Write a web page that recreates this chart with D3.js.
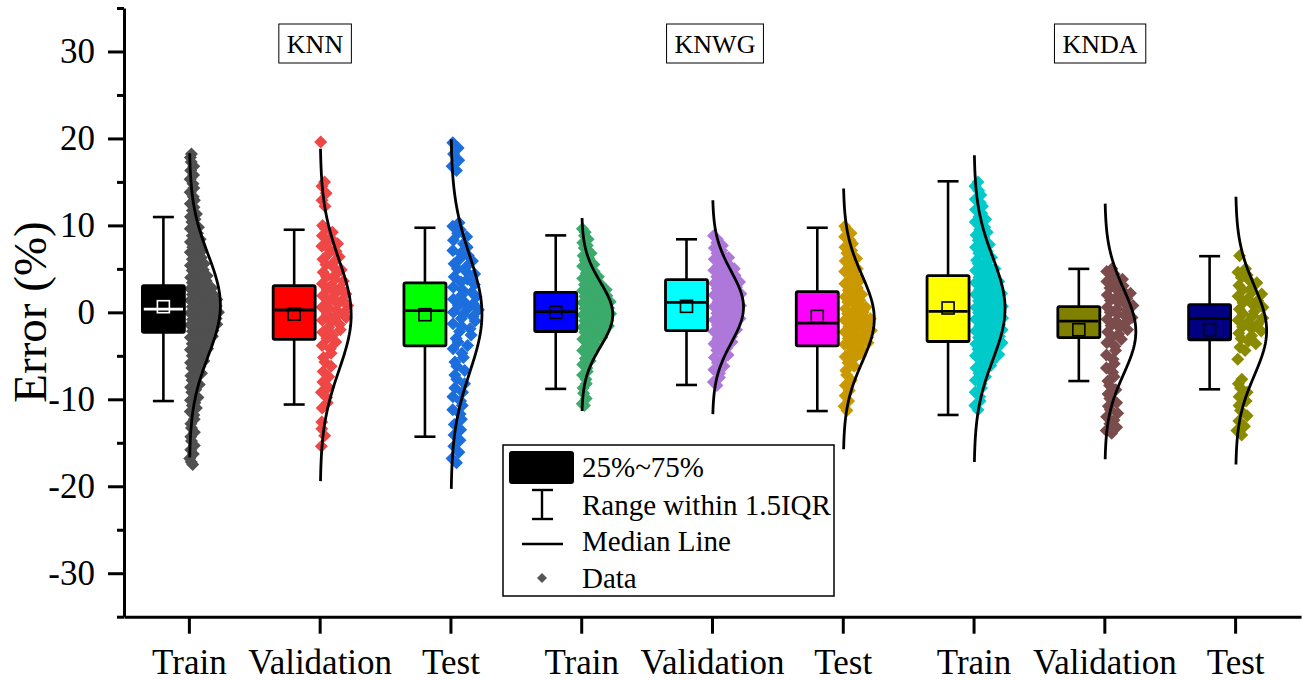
<!DOCTYPE html>
<html>
<head>
<meta charset="utf-8">
<script src="https://d3js.org/d3.v7.min.js"></script>
<style>
  body { margin: 0; background: #fff; }
  svg { display: block; }
</style>
</head>
<body>
<script>
var serif = "'Liberation Serif', 'Times New Roman', serif";

// categories on the x axis
var xLabels = ["Train", "Validation", "Test", "Train", "Validation", "Test", "Train", "Validation", "Test"];
var groups = ["KNN", "KNWG", "KNDA"];

// box statistics
var q1     = [-2.3, -3.1, -3.85, -2.2, -2.1, -3.85, -3.35, -2.9, -3.15];
var q3     = [3.07, 3.07, 3.38, 2.3, 3.77, 2.38, 4.23, 0.65, 0.88];
var median = [0.38, 0.27, 0.19, 0.08, 1.15, -1.23, 0.12, -1.0, -0.69];
var mean   = [0.65, -0.2, -0.27, 0.0, 0.69, -0.46, 0.5, -2.0, -2.0];
var whiLo  = [-10.2, -10.6, -14.3, -8.8, -8.35, -11.35, -11.8, -7.9, -8.85];
var whiHi  = [10.96, 9.5, 9.73, 8.85, 8.4, 9.73, 15.07, 5.0, 6.46];

// normal curve fit (mean, sd)
var fitMean = [0.8, -0.3, -0.2, -0.25, 0.6, -0.75, 0.43, -2.2, -2.1];
var fitSd   = [5.83, 6.37, 6.7, 3.7, 4.1, 5.0, 5.88, 4.9, 5.13];

var boxColors   = ["#000000", "#FF0000", "#00FF00", "#0000FF", "#00FFFF", "#FF00FF", "#FFFF00", "#808000", "#000080"];
var pointColors = ["#505050", "#EF4646", "#1C6EDC", "#3BAA6B", "#AE78DA", "#CA9800", "#00CACA", "#7B4C4C", "#8A8A00"];

// data points (error %), one list per box
var knnTrain = [18.2, 17.8, 17.3, 16.8, 16.3, 15.8, 15.3, 14.8, 14.3, 13.8, 13.3, 12.9, 12.5, 12.1, 11.7, 11.3,
  11.0, 10.7, 10.4, 10.1, 9.8, 9.6, 9.3, 9.1, 8.8, 8.6, 8.4, 8.1, 7.9, 7.7, 7.5, 7.3, 7.1,
  6.9, 6.7, 6.5, 6.3, 6.1, 5.9, 5.8, 5.6, 5.4, 5.3, 5.1, 4.9, 4.8, 4.6, 4.5, 4.3, 4.2, 4.0, 3.9, 3.7, 3.6, 3.4, 3.3, 3.1,
  3.0, 2.88, 2.8, 2.71, 2.6, 2.52, 2.43, 2.3, 2.22, 2.1, 2.05, 1.93, 1.85, 1.74, 1.66, 1.55, 1.47, 1.38, 1.27, 1.2,
  1.08, 1.0, 0.93, 0.82, 0.74, 0.63, 0.55, 0.46, 0.38, 0.27, 0.2, 0.1, 0.02, -0.08, -0.15, -0.26, -0.34, -0.45,
  -0.52, -0.63, -0.7, -0.81, -0.9, -1.0, -1.08, -1.19, -1.27, -1.38, -1.46, -1.57, -1.66, -1.78, -1.86, -1.97,
  -2.08, -2.17, -2.3, -2.4, -2.52, -2.63, -2.75, -2.88, -3.0,
  -3.1, -3.3, -3.4, -3.6, -3.7, -3.9, -4.0, -4.2, -4.3, -4.5, -4.7, -4.8, -5.0, -5.2, -5.4, -5.6, -5.8, -6.0,
  -6.2, -6.4, -6.6, -6.8, -7.0, -7.3, -7.5, -7.8, -8.0, -8.3, -8.6, -8.9, -9.2, -9.5, -9.8, -10.1, -10.4, -10.7,
  -11.0, -11.4, -11.8, -12.3, -12.8, -13.3, -13.8, -14.3, -14.8, -15.3, -15.8, -16.3, -16.8, -17.2, -17.5];
var knnVal = [19.6, 15.0, 14.5, 13.7, 12.9, 12.2, 10.0, 9.6, 9.2, 8.8, 8.5, 8.2, 7.9, 7.6, 7.3, 7.0, 6.7, 6.4,
  6.1, 5.8, 5.5, 5.2, 4.9, 4.6, 4.3, 4.1, 3.8, 3.6, 3.3, 3.1, 2.8, 2.6, 2.3, 2.1, 1.9, 1.7, 1.4, 1.2, 1.0, 0.8,
  0.6, 0.4, 0.2, 0.0, -0.2, -0.4, -0.6, -0.9, -1.1, -1.4, -1.7, -2.0, -2.3, -2.6, -3.0, -3.4, -3.8, -4.2, -4.7,
  -5.2, -5.7, -6.2, -6.8, -7.4, -8.0, -8.6, -9.2, -9.8, -10.4, -11.0, -12.6, -13.4, -14.2, -15.4];
var knnTest = [19.5, 18.9, 18.2, 17.5, 16.8, 16.3, 10.3, 9.9, 9.5, 9.1, 8.7, 8.3, 7.9, 7.5, 7.1, 6.8, 6.5, 6.2,
  5.9, 5.6, 5.3, 5.0, 4.7, 4.4, 4.1, 3.8, 3.5, 3.2, 2.9, 2.6, 2.3, 2.0, 1.8, 1.5, 1.3, 1.0, 0.8, 0.5, 0.3, 0.0,
  -0.2, -0.5, -0.7, -1.0, -1.3, -1.6, -1.9, -2.2, -2.6, -3.0, -3.4, -3.8, -4.2, -4.7, -5.2, -5.7, -6.2, -6.7,
  -7.2, -7.7, -8.2, -8.7, -9.2, -9.7, -10.2, -10.7, -11.2, -11.7, -12.3, -12.9, -13.5, -14.1, -14.7, -15.4,
  -16.1, -16.8, -17.3];
var knwgTrain = [9.6, 9.2, 8.8, 8.4, 8.0, 7.7, 7.4, 7.1, 6.8, 6.5, 6.2, 6.0, 5.8, 5.5, 5.3, 5.1, 4.9, 4.7, 4.5,
  4.3, 4.1, 3.9, 3.7, 3.5, 3.42, 3.3, 3.18, 3.1, 2.97, 2.9, 2.78, 2.7, 2.61, 2.5, 2.42, 2.3, 2.21, 2.1, 2.03,
  1.9, 1.82, 1.7, 1.64, 1.5, 1.43, 1.3, 1.22, 1.1, 1.04, 0.9, 0.83, 0.7, 0.62, 0.5, 0.44, 0.3, 0.21, 0.1, 0.03,
  -0.1, -0.17, -0.3, -0.36, -0.5, -0.58, -0.7, -0.77, -0.9, -0.98, -1.1, -1.16, -1.3, -1.37, -1.5, -1.58, -1.7,
  -1.79, -1.9, -2.0, -2.1, -2.22, -2.3, -2.41, -2.5, -2.7, -2.9, -3.1, -3.3, -3.5, -3.7, -3.9, -4.1, -4.4, -4.7,
  -5.0, -5.3, -5.6, -6.0, -6.4, -6.8, -7.2, -7.7, -8.2, -8.7, -9.3, -9.9, -10.5, -10.7];
var knwgVal = [8.8, 8.4, 8.0, 7.7, 7.4, 7.1, 6.8, 6.6, 6.3, 6.1, 5.8, 5.6, 5.4, 5.2, 5.0, 4.85, 4.7, 4.55, 4.4,
  4.25, 4.1, 3.95, 3.8, 3.65, 3.5, 3.35, 3.2, 3.05, 2.9, 2.75, 2.6, 2.45, 2.3, 2.15, 2.0, 1.85, 1.7, 1.55, 1.4,
  1.25, 1.1, 0.95, 0.8, 0.65, 0.5, 0.35, 0.2, 0.05, -0.1, -0.25, -0.4, -0.55, -0.7, -0.85, -1.0, -1.15, -1.3,
  -1.45, -1.6, -1.8, -2.0, -2.2, -2.4, -2.6, -2.8, -3.0, -3.2, -3.4, -3.6, -3.85, -4.1, -4.35, -4.6, -4.9, -5.2,
  -5.5, -5.8, -6.2, -6.6, -7.0, -7.5, -8.0, -8.4];
var knwgTest = [9.9, 9.5, 9.1, 8.7, 8.3, 7.9, 7.5, 7.1, 6.8, 6.5, 6.2, 5.9, 5.6, 5.3, 5.0, 4.7, 4.4, 4.1, 3.8,
  3.55, 3.3, 3.05, 2.8, 2.55, 2.3, 2.05, 1.8, 1.6, 1.4, 1.2, 1.0, 0.8, 0.6, 0.4, 0.2, 0.0, -0.15, -0.3, -0.45,
  -0.6, -0.75, -0.9, -1.05, -1.2, -1.35, -1.5, -1.65, -1.8, -1.95, -2.1, -2.25, -2.4, -2.55, -2.7, -2.85, -3.0,
  -3.15, -3.3, -3.5, -3.7, -3.9, -4.1, -4.3, -4.55, -4.8, -5.1, -5.4, -5.8, -6.2, -6.7, -7.2, -7.8, -8.4, -9.0,
  -9.6, -10.2, -10.8, -11.3];
var kndaTrain = [15.0, 14.5, 14.0, 13.5, 13.0, 12.6, 12.2, 11.8, 11.4, 11.0, 10.7, 10.4, 10.1, 9.8, 9.5, 9.2,
  8.9, 8.6, 8.3, 8.0, 7.8, 7.5, 7.3, 7.0, 6.8, 6.5, 6.3, 6.0, 5.8, 5.6, 5.4, 5.2, 5.0, 4.8, 4.6, 4.4, 4.2, 4.0,
  3.85, 3.7, 3.55, 3.4, 3.25, 3.1, 2.95, 2.8, 2.65, 2.5, 2.35, 2.2, 2.05, 1.9, 1.75, 1.6, 1.45, 1.3, 1.15, 1.0,
  0.85, 0.7, 0.55, 0.4, 0.25, 0.1, -0.05, -0.2, -0.35, -0.5, -0.65, -0.8, -0.95, -1.1, -1.25, -1.4, -1.55,
  -1.7, -1.85, -2.0, -2.15, -2.3, -2.45, -2.6, -2.75, -2.9, -3.05, -3.2, -3.35, -3.5, -3.65, -3.8, -3.95, -4.1,
  -4.25, -4.4, -4.55, -4.7, -4.85, -5.0, -5.2, -5.4, -5.6, -5.8, -6.1, -6.4, -6.7, -7.0, -7.4, -7.8, -8.2, -8.7,
  -9.2, -9.7, -10.2, -10.7, -11.2];
var kndaVal = [5.0, 4.7, 4.4, 4.1, 3.8, 3.55, 3.3, 3.05, 2.8, 2.6, 2.4, 2.2, 2.0, 1.8, 1.6, 1.4, 1.2, 1.0, 0.8,
  0.6, 0.4, 0.2, 0.0, -0.2, -0.4, -0.6, -0.8, -1.0, -1.25, -1.5, -1.75, -2.0, -2.25, -2.5, -2.8, -3.1, -3.5,
  -3.9, -4.4, -4.9, -5.4, -5.9, -6.4, -6.9, -7.4, -7.9, -8.4, -8.9, -9.4, -9.9, -10.4, -10.8, -11.2, -11.6,
  -12.0, -12.4, -12.8, -13.2, -13.6, -13.9];
var kndaTest = [6.5, 5.0, 4.6, 4.3, 4.0, 3.7, 3.4, 3.1, 2.85, 2.6, 2.35, 2.1, 1.85, 1.6, 1.35, 1.1, 0.85, 0.6,
  0.35, 0.1, -0.15, -0.4, -0.65, -0.9, -1.15, -1.4, -1.65, -1.9, -2.15, -2.4, -2.7, -3.0, -3.3, -3.6, -4.0,
  -4.4, -5.4, -7.7, -8.2, -8.7, -9.2, -9.7, -10.2, -10.7, -11.3, -11.9, -12.5, -13.1, -13.6, -14.1];
var pointSets = [knnTrain, knnVal, knnTest, knwgTrain, knwgVal, knwgTest, kndaTrain, kndaVal, kndaTest];

var majorTicks = [-30, -20, -10, 0, 10, 20, 30];
var minorTicks = [-35, -25, -15, -5, 5, 15, 25, 35];

var svg = d3.select("body").append("svg")
            .attr("width", 1302)
            .attr("height", 681);

var y = d3.scaleLinear().domain([-35, 35]).range([616.7, 8]);
var x = d3.scaleBand().domain(d3.range(9)).range([124, 1301]);
var bw = x.bandwidth();
function cx(i) { return x(i) + bw / 2; }

// ---- axes
var yAxis = svg.append("g")
               .attr("transform", "translate(124,0)")
               .call(d3.axisLeft(y).tickValues(majorTicks).tickSize(16).tickSizeOuter(0).tickPadding(13)
                       .tickFormat(function(d){ return String(d); }));
var yMinor = svg.append("g")
               .attr("transform", "translate(124,0)")
               .call(d3.axisLeft(y).tickValues(minorTicks).tickSize(7).tickSizeOuter(0).tickFormat(""));
yMinor.select(".domain").remove();

var xAxis = svg.append("g")
               .attr("transform", "translate(0,616.7)")
               .call(d3.axisBottom(x).tickSize(17).tickSizeOuter(0).tickPadding(15)
                       .tickFormat(function(i){ return xLabels[i]; }));

yAxis.attr("font-family", serif).attr("font-size", 35);
xAxis.attr("font-family", serif).attr("font-size", 35);
svg.selectAll(".domain, .tick line").attr("stroke", "#000").attr("stroke-width", 3);
svg.selectAll(".tick text").attr("fill", "#000");

svg.append("text")
   .text("Error (%)")
   .attr("transform", "translate(46,312) rotate(-90)")
   .attr("text-anchor", "middle")
   .attr("font-family", serif)
   .attr("font-size", 47);

// ---- data points, spread to the right inside their density envelope
var W = 30;
var binSize = 0.7;
var diamond = "M0,-6.5L6.5,0L0,6.5L-6.5,0Z";
pointSets.forEach(function(vals, i) {
    var h = 1.2;
    var lo = d3.min(vals);
    var kde = function(v) {
        return d3.sum(vals, function(w) { return Math.exp(-0.5 * Math.pow((v - w) / h, 2)); });
    };
    var bins = d3.group(d3.range(vals.length), function(k) { return Math.floor((vals[k] - lo) / binSize); });
    var binW = new Map();
    bins.forEach(function(members, b) { binW.set(b, kde(lo + (b + 0.5) * binSize)); });
    var wmax = d3.max(Array.from(binW.values()));
    var g = svg.append("g").attr("fill", pointColors[i]);
    bins.forEach(function(members, b) {
        var n = members.length;
        var w = W * binW.get(b) / wmax;
        members.sort(function(a, c) { return vals[c] - vals[a]; });
        members.forEach(function(k, j) {
            var frac = (j + (b % 2 == 1 ? 0.75 : 0.25)) / n;
            g.append("path")
             .attr("d", diamond)
             .attr("transform", "translate(" + (cx(i) + frac * w) + "," + y(vals[k]) + ")");
        });
    });
});

// ---- normal curves
var curveLine = d3.line().x(function(d){ return d[0]; }).y(function(d){ return d[1]; });
for (var i = 0; i < 9; i++) {
    var pts = [];
    for (var s = 0; s <= 120; s++) {
        var z = -3 + s * 6 / 120;
        var v = fitMean[i] + z * fitSd[i];
        pts.push([cx(i) + 31 * Math.exp(-0.5 * z * z), y(v)]);
    }
    svg.append("path")
       .attr("d", curveLine(pts))
       .attr("fill", "none")
       .attr("stroke", "#000")
       .attr("stroke-width", 2.8);
}

// ---- boxes
for (var i = 0; i < 9; i++) {
    var bx = cx(i) - 26;
    var inner = i == 0 ? "#fff" : "#000";
    svg.append("line")
       .attr("x1", bx).attr("x2", bx)
       .attr("y1", y(whiHi[i])).attr("y2", y(whiLo[i]))
       .attr("stroke", "#000").attr("stroke-width", 2.6);
    [whiHi[i], whiLo[i]].forEach(function(w) {
        svg.append("line")
           .attr("x1", bx - 10.5).attr("x2", bx + 10.5)
           .attr("y1", y(w)).attr("y2", y(w))
           .attr("stroke", "#000").attr("stroke-width", 2.6);
    });
    svg.append("rect")
       .attr("x", bx - 21)
       .attr("y", y(q3[i]))
       .attr("width", 42)
       .attr("height", y(q1[i]) - y(q3[i]))
       .attr("rx", 1.5)
       .attr("fill", boxColors[i])
       .attr("stroke", "#000")
       .attr("stroke-width", 2.8);
    svg.append("line")
       .attr("x1", bx - 19.6).attr("x2", bx + 19.6)
       .attr("y1", y(median[i])).attr("y2", y(median[i]))
       .attr("stroke", inner).attr("stroke-width", 2.8);
    svg.append("rect")
       .attr("x", bx - 6).attr("y", y(mean[i]) - 6)
       .attr("width", 12).attr("height", 12)
       .attr("fill", "none")
       .attr("stroke", inner).attr("stroke-width", 1.6);
}

// ---- group labels
var groupLabelX = [315, 715, 1100];
groups.forEach(function(name, k) {
    var g = svg.append("g");
    var t = g.append("text")
             .text(name)
             .attr("x", groupLabelX[k])
             .attr("y", 53)
             .attr("text-anchor", "middle")
             .attr("font-family", serif)
             .attr("font-size", 26);
    var bb = t.node().getBBox();
    g.insert("rect", "text")
     .attr("x", bb.x - 8).attr("y", 24)
     .attr("width", bb.width + 16).attr("height", 39)
     .attr("fill", "#fff")
     .attr("stroke", "#000")
     .attr("stroke-width", 1);
});

// ---- legend
var legend = svg.append("g");
legend.append("rect")
      .attr("x", 503).attr("y", 445)
      .attr("width", 331).attr("height", 151)
      .attr("fill", "#fff").attr("stroke", "#000").attr("stroke-width", 1.5);
legend.append("rect")
      .attr("x", 509).attr("y", 451)
      .attr("width", 65).attr("height", 33)
      .attr("rx", 3)
      .attr("fill", "#000");
legend.append("line").attr("x1", 542).attr("x2", 542).attr("y1", 490).attr("y2", 519)
      .attr("stroke", "#000").attr("stroke-width", 2.4);
legend.append("line").attr("x1", 532).attr("x2", 553).attr("y1", 490).attr("y2", 490)
      .attr("stroke", "#000").attr("stroke-width", 2.4);
legend.append("line").attr("x1", 532).attr("x2", 553).attr("y1", 519).attr("y2", 519)
      .attr("stroke", "#000").attr("stroke-width", 2.4);
legend.append("line").attr("x1", 522).attr("x2", 563).attr("y1", 544).attr("y2", 544)
      .attr("stroke", "#000").attr("stroke-width", 2.4);
legend.append("path").attr("d", "M0,-5L5,0L0,5L-5,0Z")
      .attr("transform", "translate(542,578)").attr("fill", "#555");
var legendText = ["25%~75%", "Range within 1.5IQR", "Median Line", "Data"];
var legendY = [477, 515, 551, 588];
legendText.forEach(function(t, k) {
    legend.append("text")
          .text(t)
          .attr("x", 582)
          .attr("y", legendY[k])
          .attr("font-family", serif)
          .attr("font-size", 29);
});
</script>
</body>
</html>
